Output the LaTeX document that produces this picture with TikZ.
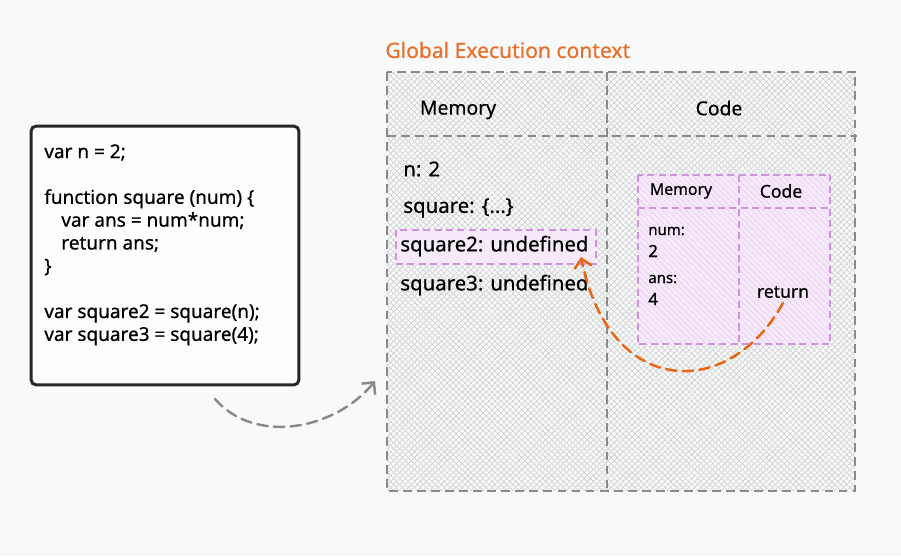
\documentclass[tikz,border=0pt]{standalone}
\usepackage{fontspec}
\setmainfont{Noto Sans}[FakeBold=0.6]
\usetikzlibrary{patterns.meta,arrows.meta}
\definecolor{bgc}{HTML}{F8F9FA}
\definecolor{dashgray}{HTML}{8A8A8A}
\definecolor{violetline}{HTML}{D291E4}
\definecolor{violetfill}{HTML}{F6EAFA}
\definecolor{orangeline}{HTML}{E8660F}
\definecolor{titleorange}{HTML}{E8702A}
\tikzset{
  hatch/.style={pattern={Lines[angle=45,distance=2.4pt,line width=.35pt]},pattern color=#1,
    postaction={pattern={Lines[angle=-45,distance=2.4pt,line width=.35pt]},pattern color=#1}},
  gbox/.style={draw=dashgray, dash pattern=on 5pt off 3pt, line width=1.3pt},
  vbox/.style={draw=violetline, dash pattern=on 4pt off 2.5pt, line width=1.1pt},
  txt/.style={anchor=west, inner sep=0pt, font=\fontsize{11.6}{13}\selectfont},
  small/.style={anchor=west, inner sep=0pt, font=\fontsize{8.5}{10}\selectfont}
}
\begin{document}
\begin{tikzpicture}[x=0.02cm, y=-0.02cm]
\useasboundingbox[fill=bgc] (0,0) rectangle (901,556);

% code
\node (code) [draw=black!85, line width=1.7pt, rounded corners=3pt, fill=bgc!40!white,
  minimum width=5.36cm, minimum height=5.18cm] at (165,255.5) {};
\node (src) [anchor=north west, inner sep=0pt, align=left, font=\fontsize{10.8}{13}\selectfont]
  at (44,144) {var n = 2;\\[13pt]
  function square (num) \{\\
  \hspace*{0.34cm}var ans = num*num;\\
  \hspace*{0.34cm}return ans;\\
  \}\\[13pt]
  var square2 = square(n);\\
  var square3 = square(4);};

% global execution context
\node (title) [anchor=west, inner sep=0pt, text=titleorange, font=\fontsize{12}{13}\selectfont]
  at (385,50) {Global Execution context};
\node (gec) [hatch=gray!38, minimum width=9.36cm, minimum height=8.38cm, inner sep=0pt] at (621,281.5) {};
\draw[gbox] (gec.north west) rectangle (gec.south east);
\draw[gbox] (607,72) -- (607,491);
\draw[gbox] (387,136) -- (857,136);
\node (mem) [font=\fontsize{11}{12}\selectfont] at (458,110) {Memory};
\node (cod) [font=\fontsize{11}{12}\selectfont] at (719,108) {Code};

\node (n) [txt] at (403,169) {n: 2};
\node (sq) [txt] at (403,208) {square: \{...\}};
\node (sq2box) [vbox, fill=violetfill, minimum width=4cm, minimum height=0.68cm] at (496,247) {};
\node (sq2) [txt] at (400,246) {square2: undefined};
\node (sq3) [txt] at (400,285) {square3: undefined};

% local execution context
\node (lec) [hatch=violetline!45, fill=violetfill, minimum width=3.84cm, minimum height=3.38cm, inner sep=0pt] at (734,259.5) {};
\draw[vbox] (lec.north west) rectangle (lec.south east);
\draw[vbox] (739,175) -- (739,344);
\draw[vbox] (638,208) -- (830,208);
\node (lmem) [font=\fontsize{9}{10}\selectfont] at (681,191) {Memory};
\node (lcod) [font=\fontsize{10}{12}\selectfont] at (781,191) {Code};
\node (num) [small] at (648,231) {num:};
\node (two) [small, font=\fontsize{9.5}{10}\selectfont] at (648,251) {2};
\node (ans) [small] at (648,279) {ans:};
\node (four) [small, font=\fontsize{9.5}{10}\selectfont] at (648,299) {4};
\node (ret) [font=\fontsize{10}{11}\selectfont] at (783,292) {return};

% arrows
\coordinate (gstart) at (215,399);
\coordinate (gend) at (375,381);
\draw[draw=dashgray, line width=1.4pt, dash pattern=on 6pt off 3.5pt, line cap=round,
  -{Straight Barb[length=5pt,width=10pt]}] (gstart) .. controls (255,445) and (335,430) .. (gend);
\coordinate (rstart) at (783,303);
\coordinate (rend) at (581,257);
\draw[draw=orangeline, line width=1.4pt, dash pattern=on 6pt off 3.5pt, line cap=round,
  -{Straight Barb[length=5pt,width=10pt]}] (rstart) .. controls (730,400) and (610,400) .. (rend);
\end{tikzpicture}
\end{document}
